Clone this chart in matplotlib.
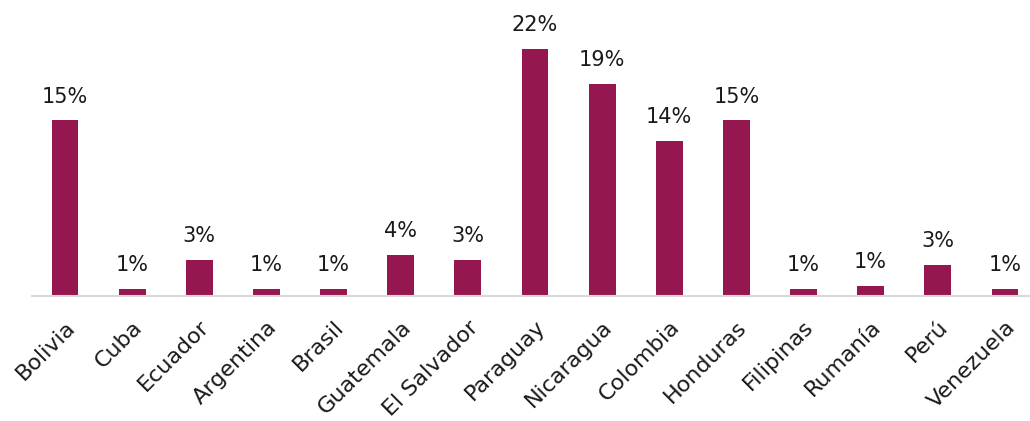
import matplotlib
matplotlib.use("Agg")
import matplotlib.pyplot as plt

# Share of respondents by country of origin (%)
countries = ["Bolivia", "Cuba", "Ecuador", "Argentina", "Brasil", "Guatemala",
             "El Salvador", "Paraguay", "Nicaragua", "Colombia", "Honduras",
             "Filipinas", "Rumanía", "Perú", "Venezuela"]
shares = [15.4, 0.6, 3.2, 0.6, 0.6, 3.6, 3.2, 21.7, 18.6, 13.6, 15.4,
          0.6, 0.9, 2.7, 0.6]

bar_color = "#95174F"
W, H = 1030, 421

plt.rcParams["font.family"] = ["DejaVu Sans"]
fig = plt.figure(figsize=(W / 100, H / 100), dpi=100)
left_px, right_px = 31.5, 1038.5
base_px, top_px = 296, 11
ax = fig.add_axes([left_px / W, (H - base_px) / H,
                   (right_px - left_px) / W, (base_px - top_px) / H])

x = range(len(countries))
bars = ax.bar(x, shares, width=0.40, color=bar_color, zorder=2)

for xi, v in zip(x, shares):
    ax.annotate(f"{round(v):d}%", (xi, v), xytext=(0, 10),
                textcoords="offset points", ha="center", va="bottom",
                fontsize=15, color="#1a1a1a")

ax.set_xlim(-0.5, len(countries) - 0.5)
ax.set_ylim(0, 25)
ax.set_yticks([])
ax.set_xticks(list(x))
ax.set_xticklabels(countries, rotation=45, ha="right", va="top",
                   rotation_mode="anchor", fontsize=16, color="#1a1a1a")
ax.tick_params(axis="x", length=0, pad=15)
for side in ("top", "right", "left"):
    ax.spines[side].set_visible(False)
ax.spines["bottom"].set_color("#D9D9D9")
ax.spines["bottom"].set_linewidth(1.5)

fig.savefig("out.png", dpi=100, facecolor="white")
